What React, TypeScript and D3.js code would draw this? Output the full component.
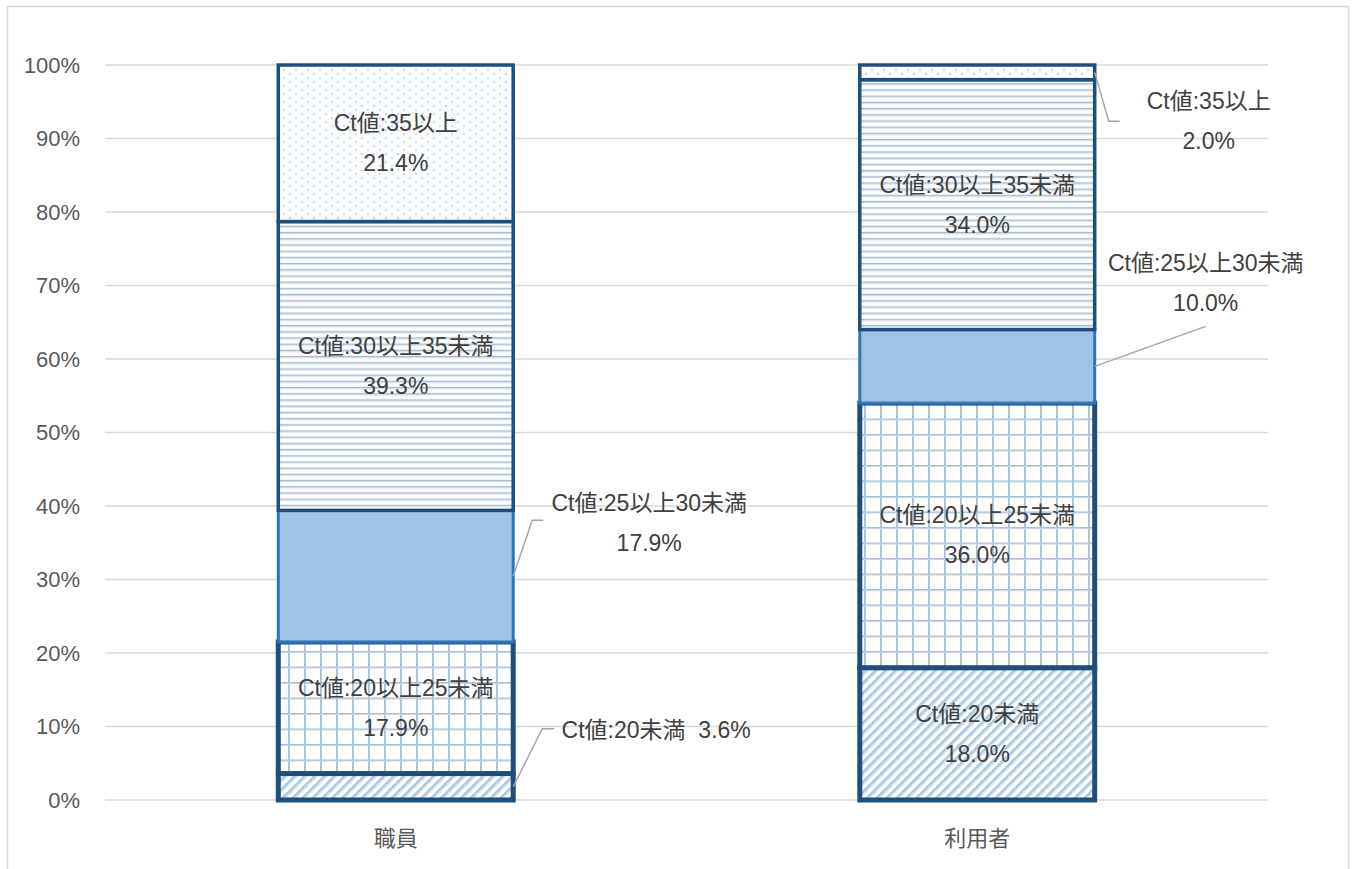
import React from "react";
import * as d3 from "d3";

const categories = ["職員", "利用者"];
const segmentNames = ["Ct値:20未満", "Ct値:20以上25未満", "Ct値:25以上30未満", "Ct値:30以上35未満", "Ct値:35以上"];
const staffValues = [3.6, 17.9, 17.9, 39.3, 21.4];
const userValues = [18.0, 36.0, 10.0, 34.0, 2.0];
const yTicks = [0, 10, 20, 30, 40, 50, 60, 70, 80, 90, 100];

const W = 1355;
const H = 869;
const plot = { left: 105, right: 1268, top: 65, bottom: 800 };

const fills = ["url(#pDiag)", "url(#pGrid)", "#9DC3E6", "url(#pHoriz)", "url(#pDots)"];
const strokes = ["#1F4E79", "#1F4E79", "#2E75B6", "#1F4E79", "#1F4E79"];
const strokeWidths = [5, 5, 3, 3.5, 3.5];

// outside label placement: [catIndex, segIndex] -> offsets relative to bar right edge / segment centre
const outside: Record<string, { pts: [number, number][]; lx: number; ly: number; single?: boolean }> = {
  "0-0": { pts: [[0, 0], [29, -58], [41, -58]], lx: 143, ly: -57, single: true },
  "0-2": { pts: [[0, 0], [19, -56], [30, -56]], lx: 136, ly: -53 },
  "1-4": { pts: [[0, 0], [14, 49], [25, 49]], lx: 114, ly: 49 },
  "1-2": { pts: [[0, 0], [111, -40]], lx: 111, ly: -83 },
};

const FONT = "'Liberation Sans', Arial, 'Noto Sans CJK JP', sans-serif";
const LFS = 23;

export default function App() {
  const x = d3.scaleBand<string>().domain(categories).range([plot.left, plot.right]).paddingInner(0.596).paddingOuter(0.298);
  const y = d3.scaleLinear().domain([0, 100]).range([plot.bottom, plot.top]);
  const series = [staffValues, userValues];

  const segs: any[] = [];
  series.forEach((vals, ci) => {
    let acc = 0;
    vals.forEach((v, si) => {
      const y0 = acc;
      const y1 = Math.min(100, acc + v);
      acc += v;
      segs.push({ ci, si, v, y0, y1 });
    });
  });

  return (
    <svg width={W} height={H} style={{ position: "absolute", left: 0, top: 0, background: "#fff" }} fontFamily={FONT}>
      <defs>
        <pattern id="pDiag" width="7" height="7" patternUnits="userSpaceOnUse" patternTransform="rotate(45)">
          <rect width="7" height="7" fill="#ffffff" />
          <rect x="0" y="0" width="2.6" height="7" fill="#a6c9e8" />
          <rect x="2.6" y="0" width="0.8" height="7" fill="#c4d0dc" />
        </pattern>
        <pattern id="pGrid" width="16" height="15.5" patternUnits="userSpaceOnUse">
          <rect width="16" height="15.5" fill="#ffffff" />
          <rect x="0" y="0" width="1" height="15.5" fill="#9DC3E6" />
          <rect x="1" y="0" width="1" height="15.5" fill="#b9c7d6" />
          <rect x="0" y="0" width="16" height="1" fill="#9DC3E6" />
          <rect x="0" y="1" width="16" height="1" fill="#c6d2de" />
        </pattern>
        <pattern id="pHoriz" width="8" height="6.2" patternUnits="userSpaceOnUse">
          <rect width="8" height="6.2" fill="#ffffff" />
          <rect x="0" y="2.5" width="8" height="1.6" fill="#a9bccd" />
          <rect x="0" y="4.1" width="8" height="0.8" fill="#d6e6f4" />
        </pattern>
        <pattern id="pDots" width="12" height="8" patternUnits="userSpaceOnUse">
          <rect width="12" height="8" fill="#fbfcfd" />
          <circle cx="2" cy="2" r="0.9" fill="#b6c3cf" />
          <circle cx="8" cy="6" r="0.9" fill="#bfd2e4" />
        </pattern>
      </defs>

      <rect x={7.5} y={6.5} width={1341} height={880} fill="none" stroke="#d9d9d9" strokeWidth={1.5} />

      {yTicks.map((t) => (
        <g key={t}>
          <line x1={plot.left} x2={plot.right} y1={y(t)} y2={y(t)} stroke="#d9d9d9" strokeWidth={1.5} />
          <text x={80} y={y(t)} textAnchor="end" dominantBaseline="central" fontSize={22} fill="#595959">
            {t}%
          </text>
        </g>
      ))}

      {segs.map((s) => {
        const bx = x(categories[s.ci])!;
        const bw = x.bandwidth();
        const sw = strokeWidths[s.si];
        return (
          <rect
            key={`${s.ci}-${s.si}`}
            x={bx}
            y={y(s.y1)}
            width={bw}
            height={y(s.y0) - y(s.y1)}
            fill={fills[s.si]}
            stroke={strokes[s.si]}
            strokeWidth={sw}
          />
        );
      })}

      {segs.map((s) => {
        const key = `${s.ci}-${s.si}`;
        const bx = x(categories[s.ci])!;
        const bw = x.bandwidth();
        const cy = (y(s.y0) + y(s.y1)) / 2;
        const label = segmentNames[s.si];
        const pct = `${s.v.toFixed(1)}%`;
        const o = outside[key];
        if (o) {
          const ax = bx + bw;
          const line = d3.line()(o.pts.map(([dx, dy]) => [ax + dx, cy + dy]) as [number, number][]);
          const lx = ax + o.lx;
          const ly = cy + o.ly;
          return (
            <g key={key}>
              <path d={line!} fill="none" stroke="#a6a6a6" strokeWidth={1.5} />
              {o.single ? (
                <text x={lx} y={ly} textAnchor="middle" dominantBaseline="central" fontSize={LFS} fill="#404040" style={{ whiteSpace: "pre" }}>
                  {`${label}  ${pct}`}
                </text>
              ) : (
                <>
                  <text x={lx} y={ly - 20} textAnchor="middle" dominantBaseline="central" fontSize={LFS} fill="#404040">
                    {label}
                  </text>
                  <text x={lx} y={ly + 20} textAnchor="middle" dominantBaseline="central" fontSize={LFS} fill="#404040">
                    {pct}
                  </text>
                </>
              )}
            </g>
          );
        }
        return (
          <g key={key}>
            <text x={bx + bw / 2} y={cy - 20} textAnchor="middle" dominantBaseline="central" fontSize={LFS} fill="#404040">
              {label}
            </text>
            <text x={bx + bw / 2} y={cy + 20} textAnchor="middle" dominantBaseline="central" fontSize={LFS} fill="#404040">
              {pct}
            </text>
          </g>
        );
      })}

      {categories.map((c) => (
        <text key={c} x={x(c)! + x.bandwidth() / 2} y={838} textAnchor="middle" dominantBaseline="central" fontSize={22} fill="#595959">
          {c}
        </text>
      ))}
    </svg>
  );
}
